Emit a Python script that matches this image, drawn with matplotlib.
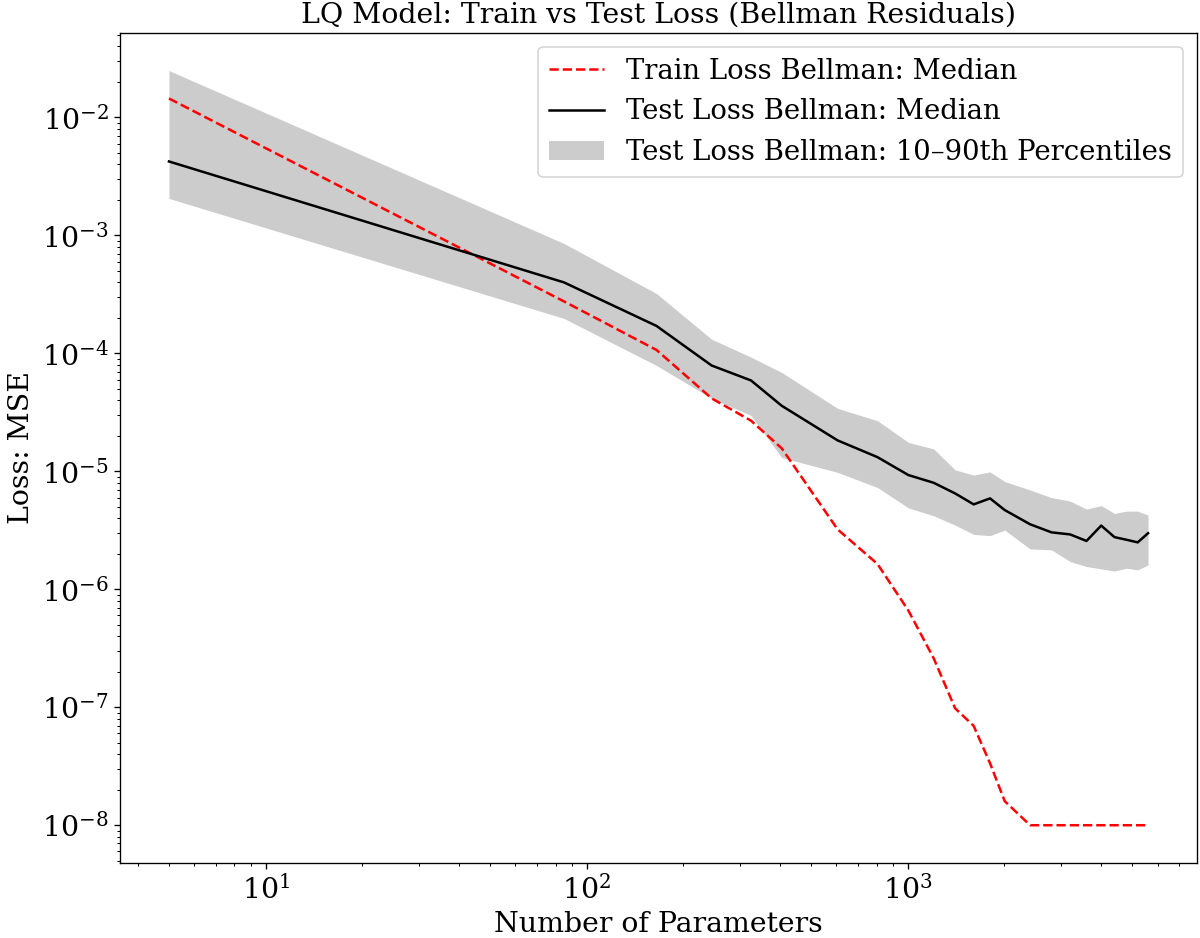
import numpy as np
import matplotlib
matplotlib.use("Agg")
import matplotlib.pyplot as plt

# number of parameters per model size
n_params = [5, 85, 165, 245, 325, 405, 605, 805, 1005, 1205, 1405, 1605, 1805,
            2005, 2405, 2805, 3205, 3605, 4005, 4405, 4805, 5205, 5605]

train_median = [1.45e-2, 2.76e-4, 1.07e-4, 4.16e-5, 2.69e-5, 1.57e-5, 3.22e-6,
                1.64e-6, 6.6e-7, 2.6e-7, 9.8e-8, 6.95e-8, 3.35e-8, 1.6e-8,
                1e-8, 1e-8, 1e-8, 1e-8, 1e-8, 1e-8, 1e-8, 1e-8, 1e-8]

test_median = [4.24e-3, 4.0e-4, 1.71e-4, 7.9e-5, 5.9e-5, 3.6e-5, 1.83e-5,
               1.32e-5, 9.3e-6, 8.0e-6, 6.5e-6, 5.25e-6, 5.9e-6, 4.7e-6,
               3.56e-6, 3.04e-6, 2.92e-6, 2.57e-6, 3.47e-6, 2.77e-6, 2.63e-6,
               2.5e-6, 2.99e-6]

test_p10 = [2.06e-3, 1.98e-4, 7.9e-5, 4.16e-5, 2.98e-5, 1.31e-5, 9.8e-6,
            7.3e-6, 4.9e-6, 4.2e-6, 3.5e-6, 2.92e-6, 2.85e-6, 3.18e-6,
            2.2e-6, 2.16e-6, 1.72e-6, 1.56e-6, 1.49e-6, 1.43e-6, 1.51e-6,
            1.46e-6, 1.61e-6]

test_p90 = [2.5e-2, 8.55e-4, 3.22e-4, 1.32e-4, 9.3e-5, 6.9e-5, 3.42e-5,
            2.69e-5, 1.76e-5, 1.55e-5, 1.03e-5, 9.3e-6, 9.9e-6, 8.2e-6,
            6.95e-6, 5.99e-6, 5.6e-6, 4.79e-6, 5.12e-6, 4.4e-6, 4.6e-6,
            4.6e-6, 4.26e-6]

plt.rcParams['font.family'] = 'DejaVu Serif'
plt.rcParams['font.size'] = 17

fig, ax = plt.subplots(figsize=(10, 7.8167), dpi=120)
fig.subplots_adjust(left=0.1, right=0.9975, top=0.965, bottom=0.08)

ax.plot(n_params, train_median, 'r--', label='Train Loss Bellman: Median')
ax.plot(n_params, test_median, 'k-', label='Test Loss Bellman: Median')
ax.fill_between(n_params, test_p10, test_p90, color='gray', alpha=0.4,
                linewidth=0, label='Test Loss Bellman: 10–90th Percentiles')

ax.set_xscale('log')
ax.set_yscale('log')
ax.set_xlabel('Number of Parameters')
ax.set_ylabel('Loss: MSE')
ax.set_title('LQ Model: Train vs Test Loss (Bellman Residuals)', fontsize=17)
ax.legend(loc='upper right', fontsize=16.5)

fig.savefig('out.png', dpi=120)
